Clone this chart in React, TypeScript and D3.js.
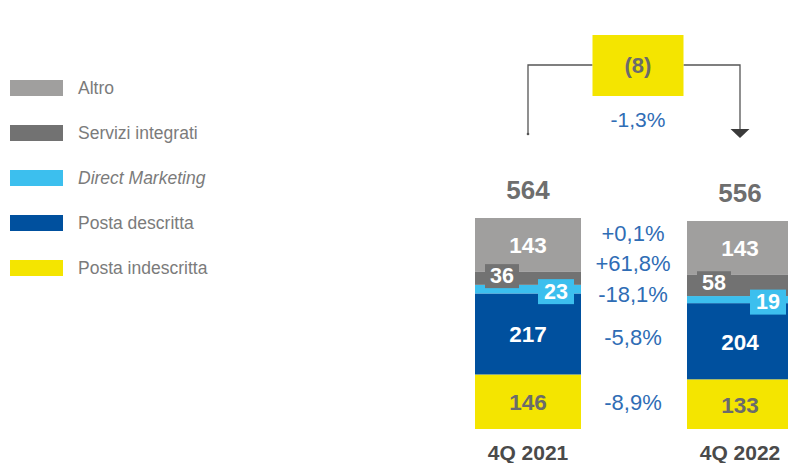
import React from "react";
import * as d3 from "d3";

const categories = ["4Q 2021", "4Q 2022"];
const series = ["Posta indescritta", "Posta descritta", "Direct Marketing", "Servizi integrati", "Altro"];
const values2021 = [146, 217, 23, 36, 143];
const values2022 = [133, 204, 19, 58, 143];
const totals = [564, 556];
const changes = ["-8,9%", "-5,8%", "-18,1%", "+61,8%", "+0,1%"];
const deltaLabel = "(8)";
const deltaPct = "-1,3%";

const colors = ["#f4e500", "#00509e", "#3cbfee", "#727272", "#a09f9e"];
const textColors = ["#6b6b6b", "#ffffff", "#ffffff", "#ffffff", "#ffffff"];
const FONT = "'Liberation Sans', Arial, Helvetica, sans-serif";
const W = 788;
const H = 463;

const App: React.FC = () => {
  const rows = [values2021, values2022];
  const table = categories.map((c, i) => {
    const o: Record<string, number | string> = { cat: c };
    series.forEach((s, j) => (o[s] = rows[i][j]));
    return o;
  });
  const stack = d3.stack<Record<string, number | string>>().keys(series);
  const stacked = stack(table as any);

  const x = d3.scaleBand().domain(categories).range([475, 793]).paddingInner(0.5).paddingOuter(0);
  const y = d3.scaleLinear().domain([0, 565]).range([429, 218]);
  const bw = x.bandwidth();

  const cx = (c: string) => (x(c) as number) + bw / 2;
  const mid = (cx(categories[0]) + cx(categories[1])) / 2;

  // percent labels: natural y = avg of segment centres, push up to avoid overlap
  const pctY: number[] = [];
  stacked.forEach((layer, j) => {
    const nat = d3.mean(layer, (d) => (y(d[0]) + y(d[1])) / 2) as number;
    const prev = j > 0 ? pctY[j - 1] : Infinity;
    pctY.push(Math.min(nat, prev - 30.5));
  });

  const topY = (i: number) => y(stacked[series.length - 1][i][1]);

  const legendLabels = [...series].reverse();
  const legendColors = [...colors].reverse();

  const lineCol = "#555";
  const bracketTop = 65;
  const boxW = 91;
  const boxX = mid + 4 - boxW / 2;
  const c1 = cx(categories[0]);
  const c2 = cx(categories[1]);

  return (
    <svg width={W} height={H} style={{ position: "absolute", left: 0, top: 0, fontFamily: FONT }}>
      {/* legend */}
      {legendLabels.map((s, i) => (
        <g key={s} transform={`translate(10, ${80 + i * 45})`}>
          <rect width={53} height={16} fill={legendColors[i]} />
          <text
            x={68}
            y={8}
            dominantBaseline="central"
            fontSize={17.5}
            fill="#7b7b7b"
            fontStyle={s === "Direct Marketing" ? "italic" : "normal"}
          >
            {s}
          </text>
        </g>
      ))}

      {/* bars */}
      {stacked.map((layer, j) =>
        layer.map((d, i) => (
          <rect
            key={`${j}-${i}`}
            x={x(categories[i])}
            y={y(d[1])}
            width={bw}
            height={y(d[0]) - y(d[1])}
            fill={colors[j]}
          />
        ))
      )}

      {/* segment labels */}
      {stacked.map((layer, j) =>
        layer.map((d, i) => {
          const v = rows[i][j];
          const yc = (y(d[0]) + y(d[1])) / 2;
          const x0 = x(categories[i]) as number;
          if (series[j] === "Servizi integrati") {
            return (
              <g key={`l${j}-${i}`}>
                <rect x={x0 + 10} y={yc - 14} width={34} height={24} fill={colors[j]} />
                <text x={x0 + 27} y={yc - 2} textAnchor="middle" dominantBaseline="central" fontSize={21.5} fontWeight="bold" fill="#fff">
                  {v}
                </text>
              </g>
            );
          }
          if (series[j] === "Direct Marketing") {
            return (
              <g key={`l${j}-${i}`}>
                <rect x={x0 + 63} y={yc - 10} width={36} height={25} fill={colors[j]} />
                <text x={x0 + 81} y={yc + 2.5} textAnchor="middle" dominantBaseline="central" fontSize={21.5} fontWeight="bold" fill="#fff">
                  {v}
                </text>
              </g>
            );
          }
          return (
            <text
              key={`l${j}-${i}`}
              x={cx(categories[i])}
              y={yc + 1}
              textAnchor="middle"
              dominantBaseline="central"
              fontSize={22.5}
              fontWeight="bold"
              fill={textColors[j]}
            >
              {v}
            </text>
          );
        })
      )}

      {/* totals */}
      {categories.map((c, i) => (
        <text key={`t${c}`} x={cx(c)} y={topY(i) - 28} textAnchor="middle" dominantBaseline="central" fontSize={26} fontWeight="bold" fill="#6e6e6e">
          {totals[i]}
        </text>
      ))}

      {/* category labels */}
      {categories.map((c) => (
        <text key={`c${c}`} x={cx(c)} y={452} textAnchor="middle" dominantBaseline="central" fontSize={21} fontWeight="bold" fill="#4a4a4a">
          {c}
        </text>
      ))}

      {/* change percentages */}
      {changes.map((p, j) => (
        <text key={`p${j}`} x={mid - 1} y={pctY[j]} textAnchor="middle" dominantBaseline="central" fontSize={22} fill="#2f6db5">
          {p}
        </text>
      ))}

      {/* bracket */}
      <path d={`M${c1},${topY(0) - 84}V${bracketTop}H${boxX}`} fill="none" stroke={lineCol} strokeWidth={1.3} />
      <circle cx={c1} cy={topY(0) - 84} r={1.3} fill={lineCol} />
      <path d={`M${boxX + boxW},${bracketTop}H${c2}V${129}`} fill="none" stroke={lineCol} strokeWidth={1.3} />
      <path d={`M${c2 - 9.5},129L${c2 + 9.5},129L${c2},138Z`} fill="#3a3a3a" />
      <rect x={boxX} y={35} width={boxW} height={61} fill="#f4e500" />
      <text x={boxX + boxW / 2} y={65} textAnchor="middle" dominantBaseline="central" fontSize={22} fontWeight="bold" fill="#6b6b6b">
        {deltaLabel}
      </text>
      <text x={boxX + boxW / 2} y={119} textAnchor="middle" dominantBaseline="central" fontSize={21} fill="#2f6db5">
        {deltaPct}
      </text>
    </svg>
  );
};

export default App;
